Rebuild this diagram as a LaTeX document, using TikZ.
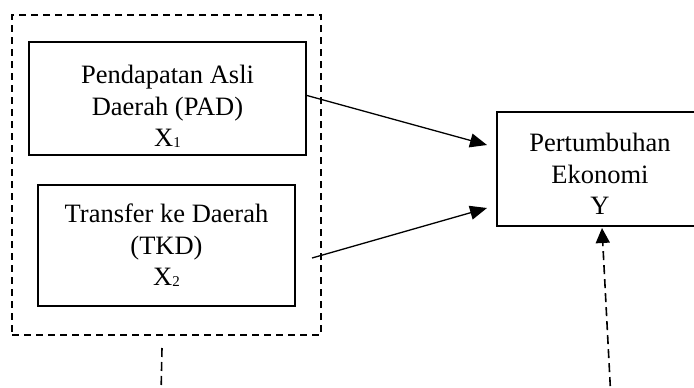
\documentclass[tikz,border=0pt]{standalone}
\usepackage{fontspec}
\setmainfont{Liberation Serif}
\usetikzlibrary{arrows.meta,calc}
\newcommand{\subn}[1]{\raisebox{-1pt}{\fontsize{15}{15}\selectfont #1}}
\tikzset{
  varbox/.style={draw, line width=2pt, inner sep=0pt},
  vartext/.style={align=center, font=\fontsize{26.5}{31.5}\selectfont, inner sep=0pt},
  grpbox/.style={draw, line width=1.6pt, dash pattern=on 7pt off 5pt},
  link/.style={line width=1.3pt, -{Triangle[length=17pt,width=14pt]}},
  dlink/.style={line width=1.6pt, dash pattern=on 9pt off 5pt},
}
\begin{document}
\begin{tikzpicture}[x=1pt,y=-1pt]
\useasboundingbox (0,0) rectangle (694,388);
\clip (0,0) rectangle (694,388);
\node[grpbox, minimum width=309pt, minimum height=320pt] (grp) at (166.5,175) {};
\node[varbox, minimum width=277pt, minimum height=113pt] (x1) at (167.5,98.5) {};
\node[vartext] (t1) at ($(x1.center)+(0,8)$) {Pendapatan Asli\\Daerah (PAD)\\X\subn{1}};
\node[varbox, minimum width=257pt, minimum height=121pt] (x2) at (166.5,245.5) {};
\node[vartext] (t2) at ($(x2.center)+(0,0)$) {Transfer ke Daerah\\(TKD)\\X\subn{2}};
\node[varbox, minimum width=206pt, minimum height=114pt] (y) at (600,169) {};
\node[vartext] (ty) at ($(y.center)+(0,5)$) {Pertumbuhan\\Ekonomi\\Y};
\coordinate (s2) at (312,258);
\coordinate (b1) at (162,348);
\coordinate (b2) at (161,395);
\coordinate (b3) at (611,400);
\draw[link] ($(x1.east)+(0,-3)$) -- ($(y.west)+(-9,-24)$);
\draw[link] (s2) -- ($(y.west)+(-9,39)$);
\draw[dlink] (b1) -- (b2);
\draw[dlink, -{Triangle[length=15pt,width=14pt]}] (b3) -- ($(y.south)+(2,1)$);
\end{tikzpicture}
\end{document}
